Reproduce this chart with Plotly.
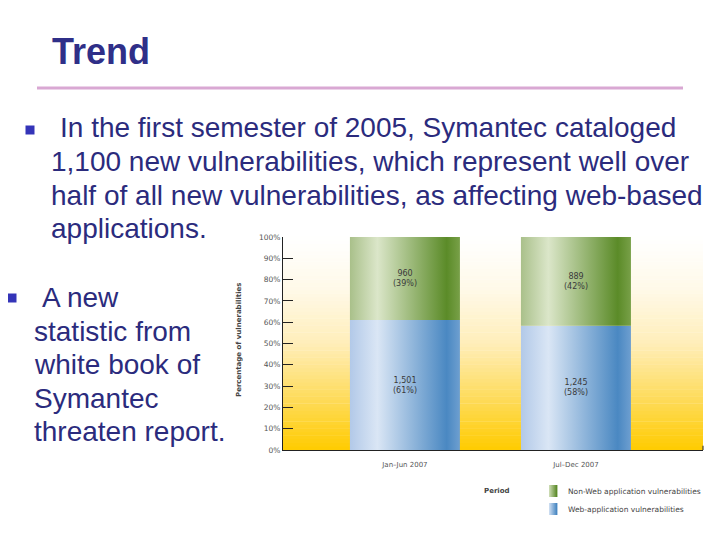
import plotly.graph_objects as go

# data
periods = ["Jan–Jun 2007", "Jul–Dec 2007"]
web_counts = [1501, 1245]
nonweb_counts = [960, 889]
series_names = ["Non-Web application vulnerabilities", "Web-application vulnerabilities"]
y_ticks = [0, 10, 20, 30, 40, 50, 60, 70, 80, 90, 100]

W, H = 720, 540
OFF = 8  # page body margin of the html page
L, T = 283 - OFF, 237 - OFF
R, B = W - (703 - OFF), H - (450 - OFF)
PW, PH = W - L - R, H - T - B


def px(x, y):
    # page pixel -> paper coords of the plot area
    return (x - OFF - L) / PW, (H - B - (y - OFF)) / PH


def mix(c1, c2, f):
    a = [int(c1[i:i + 2], 16) for i in (1, 3, 5)]
    b = [int(c2[i:i + 2], 16) for i in (1, 3, 5)]
    c = [round(a[k] + (b[k] - a[k]) * f) for k in range(3)]
    return f"rgb({c[0]},{c[1]},{c[2]})"


NAVY = "#2b2b7d"
green_scale = [[0, "#a9c08a"], [0.25, "#dbe6c9"], [0.88, "#5b8b28"], [1, "#78a048"]]
blue_scale = [[0, "#b2c9e8"], [0.25, "#dae6f5"], [0.88, "#4a88c2"], [1, "#6e9fd0"]]

fig = go.Figure()

half = 0.3216
for i, p in enumerate(periods):
    total = web_counts[i] + nonweb_counts[i]
    web_pct = web_counts[i] / total * 100
    segs = [(0, web_pct, blue_scale, web_counts[i], series_names[1]),
            (web_pct, 100, green_scale, nonweb_counts[i], series_names[0])]
    for y0, y1, cs, cnt, name in segs:
        fig.add_trace(go.Scatter(
            x=[i - half, i + half, i + half, i - half, i - half],
            y=[y0, y0, y1, y1, y0],
            fill="toself", mode="lines", line=dict(width=0),
            fillgradient=dict(type="horizontal", colorscale=cs),
            name=name, showlegend=False, hoverinfo="skip"))
        fig.add_annotation(
            x=i, y=(y0 + y1) / 2, xref="x", yref="y", showarrow=False,
            text=f"{cnt:,}<br>({round((y1 - y0))}%)",
            font=dict(family="DejaVu Sans", size=8, color="#3a3a3a"))

# background gradient of the plot area (white at top to gold at bottom)
def bg_color(t):
    stops = [(0, "#ffcb00"), (0.25, "#fedc5f"), (0.5, "#ffeeb9"),
             (0.75, "#fff9e8"), (1, "#ffffff")]
    for (a, ca), (b, cb) in zip(stops, stops[1:]):
        if a <= t <= b:
            return mix(ca, cb, (t - a) / (b - a))
    return "white"


shapes = []
n = 60
for k in range(n):
    shapes.append(dict(type="rect", xref="x domain", yref="y domain",
                       x0=0, x1=1, y0=k / n, y1=(k + 1) / n + 0.002,
                       fillcolor=bg_color((k + 0.5) / n), line=dict(width=0),
                       layer="below"))

# pink rule under the title
x0, y0 = px(37, 88)
x1, _ = px(683, 88)
shapes.append(dict(type="line", xref="paper", yref="paper", x0=x0, x1=x1, y0=y0, y1=y0,
                   line=dict(color="#d9a8d3", width=3)))

# bullets
for bx, by in [(30, 130), (12, 298)]:
    a0, b0 = px(bx - 4.5, by - 4.5)
    a1, b1 = px(bx + 4.5, by + 4.5)
    shapes.append(dict(type="rect", xref="paper", yref="paper", x0=a0, x1=a1, y0=b1, y1=b0,
                       fillcolor="#3434b8", line=dict(width=0)))

# small tick at right end of the x axis
shapes.append(dict(type="line", xref="x domain", yref="y", x0=1, x1=1, y0=0, y1=2,
                   line=dict(color="#222", width=1)))

# legend swatches (small horizontal gradients)
for sy, (c_light, c_dark) in [(491, ("#c9d9b0", "#5e8c2c")), (509, ("#c9dbf0", "#4a88c2"))]:
    steps = 8
    for j in range(steps):
        a0, b0 = px(549 + j * 1.0, sy - 6)
        a1, b1 = px(549 + (j + 1) * 1.0, sy + 6)
        shapes.append(dict(type="rect", xref="paper", yref="paper", x0=a0, x1=a1 + 0.001,
                           y0=b1, y1=b0, fillcolor=mix(c_light, c_dark, j / (steps - 1)),
                           line=dict(width=0)))

fig.update_layout(shapes=shapes)

slide_lines = [
    ("In the first semester of 2005, Symantec cataloged", 58, 128),
    ("1,100 new vulnerabilities, which represent well over", 49, 161),
    ("half of all new vulnerabilities, as affecting web-based", 49, 195),
    ("applications.", 49, 228),
    ("A new", 40, 297),
    ("statistic from", 32, 331),
    ("white book of", 32, 364),
    ("Symantec", 32, 398),
    ("threaten report.", 32, 431),
]
for txt, tx, ty in slide_lines:
    ax, ay = px(tx, ty)
    fig.add_annotation(x=ax, y=ay, xref="paper", yref="paper", showarrow=False,
                       xanchor="left", yanchor="middle", text=txt,
                       font=dict(family="Liberation Sans, Arial", size=28, color=NAVY))

ax, ay = px(50, 52)
fig.add_annotation(x=ax, y=ay, xref="paper", yref="paper", showarrow=False,
                   xanchor="left", yanchor="middle", text="<b>Trend</b>",
                   font=dict(family="Liberation Sans, Arial", size=36, color="#2f2f88"))

ax, ay = px(233, 340)
fig.add_annotation(x=ax, y=ay, xref="paper", yref="paper", showarrow=False,
                   textangle=-90, text="<b>Percentage of vulnerabilities</b>",
                   font=dict(family="DejaVu Sans", size=7, color="#444"))

ax, ay = px(482, 491)
fig.add_annotation(x=ax, y=ay, xref="paper", yref="paper", showarrow=False,
                   xanchor="left", yanchor="middle", text="<b>Period</b>",
                   font=dict(family="DejaVu Sans", size=7, color="#444"))
for name, sy in [(series_names[0], 491), (series_names[1], 509)]:
    ax, ay = px(566, sy)
    fig.add_annotation(x=ax, y=ay, xref="paper", yref="paper", showarrow=False,
                       xanchor="left", yanchor="middle", text=name,
                       font=dict(family="DejaVu Sans", size=7.5, color="#444"))

fig.update_layout(
    width=W, height=H,
    margin=dict(l=L, r=R, t=T, b=B, autoexpand=False),
    paper_bgcolor="white", plot_bgcolor="white",
    showlegend=False,
    xaxis=dict(range=[-0.713, 1.743], tickvals=[0, 1], ticktext=periods,
               showgrid=False, zeroline=False, showline=True, linecolor="#222",
               linewidth=1, ticks="outside", ticklen=8, tickcolor="rgba(0,0,0,0)",
               tickfont=dict(family="DejaVu Sans", size=7, color="#555")),
    yaxis=dict(range=[0, 100], tickvals=y_ticks, ticktext=[f"{v}%" for v in y_ticks],
               showgrid=False, zeroline=False, showline=True, linecolor="#222", linewidth=1,
               ticks="inside", ticklen=10, tickcolor="#222",
               tickfont=dict(family="DejaVu Sans", size=7.5, color="#555")),
)

fig.write_html("out.html")
